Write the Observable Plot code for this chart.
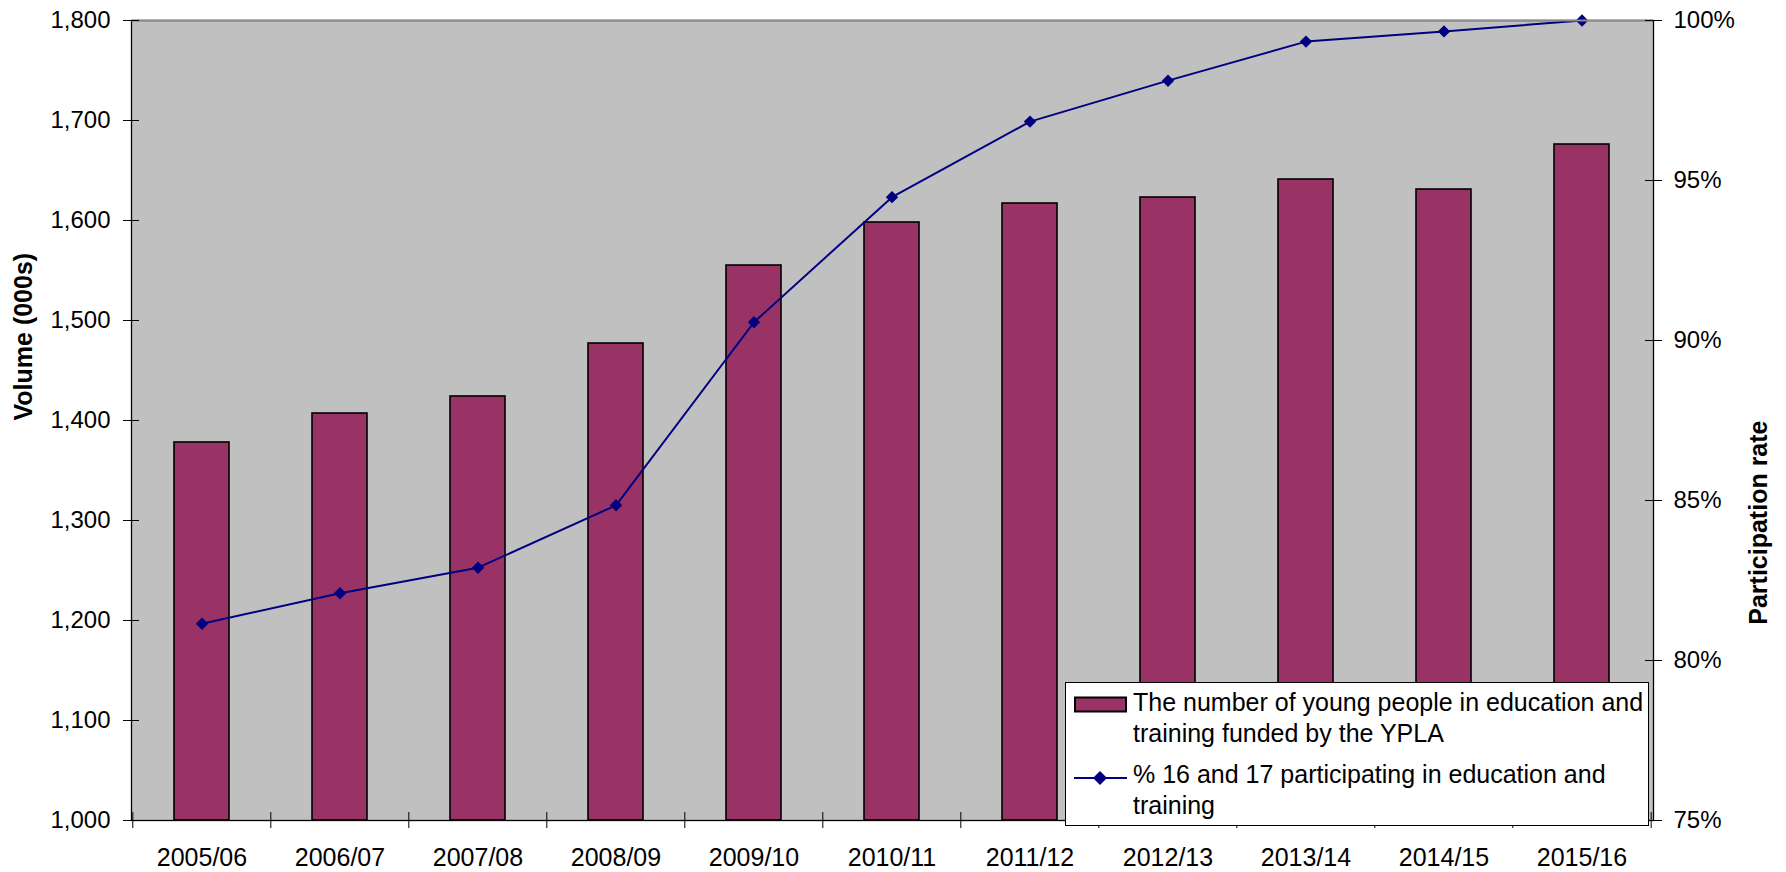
<!DOCTYPE html>
<html>
<head>
<meta charset="utf-8">
<script src="https://cdn.jsdelivr.net/npm/d3@7"></script>
<script src="https://cdn.jsdelivr.net/npm/@observablehq/plot@0.6"></script>
<style>
  html, body { margin: 0; padding: 0; background: #fff; }
  #wrap { position: relative; width: 1786px; height: 872px; font-family: "Liberation Sans", Arial, sans-serif; }
  #legend {
    position: absolute; left: 1065px; top: 682px; width: 582px; height: 142px;
    background: #fff; border: 1px solid #000; box-sizing: content-box;
    font-size: 25px; color: #000; line-height: 31px;
  }
  .item { position: absolute; left: 0; width: 100%; }
  .item .sw { position: absolute; left: 8px; }
  .item .tx { position: absolute; left: 67px; white-space: nowrap; }
</style>
</head>
<body>
<div id="wrap"></div>
<script>
const years = ["2005/06","2006/07","2007/08","2008/09","2009/10","2010/11","2011/12","2012/13","2013/14","2014/15","2015/16"];
const volume = [1378, 1407, 1424, 1477, 1555, 1598, 1617, 1623, 1641, 1631, 1676];
const rate = [81.15, 82.1, 82.9, 84.85, 90.57, 94.48, 96.84, 98.12, 99.34, 99.66, 100.0];
const leftTicks = [1000, 1100, 1200, 1300, 1400, 1500, 1600, 1700, 1800];
const rightTicks = [75, 80, 85, 90, 95, 100];
const seriesNames = [
  ["The number of young people in education and", "training funded by the YPLA"],
  ["% 16 and 17 participating in education and", "training"]
];

const W = 1786, H = 872;
const mL = 131, mR = 133, mT = 20, mB = 52;
const plotW = W - mL - mR;
const step = plotW / years.length;
const yMin = 1000, yMax = 1800, rMin = 75, rMax = 100;
const k = (yMax - yMin) / (rMax - rMin);
const toLeft = p => yMin + (p - rMin) * k;
const fromLeft = v => rMin + (v - yMin) / k;
const unitsPerPx = (yMax - yMin) / (H - mT - mB);

const data = years.map((y, i) => ({year: y, volume: volume[i], rate: rate[i]}));

const font = "'Liberation Sans', Arial, sans-serif";
const chart = Plot.plot({
  width: W, height: H,
  marginLeft: mL, marginRight: mR, marginTop: mT, marginBottom: mB,
  style: {fontFamily: font, fontSize: "24px", color: "#000", background: "#fff", overflow: "visible"},
  x: {type: "band", domain: years, paddingInner: 0.6, paddingOuter: 0.3, axis: null},
  y: {domain: [yMin, yMax], axis: null},
  marks: [
    Plot.frame({fill: "#C0C0C0"}),
    Plot.barY(data, {x: "year", y1: yMin, y2: "volume", fill: "#993366", stroke: "#000", strokeWidth: 1.6}),
    Plot.line(data, {x: "year", y: d => toLeft(d.rate), stroke: "#000080", strokeWidth: 2}),
    Plot.dot(data, {x: "year", y: d => toLeft(d.rate), symbol: "diamond2", r: 5.6, fill: "#000080", stroke: "none"}),
    Plot.frame({stroke: "#000", strokeWidth: 1.3}),
    Plot.ruleY([yMax], {stroke: "#8c8c8c", strokeWidth: 2}),
    Plot.axisY({anchor: "left", ticks: leftTicks, tickFormat: d3.format(","), tickSize: 8, tickPadding: 13, fontSize: 24, label: null, stroke: "#000"}),
    Plot.tickY(leftTicks, {y: d => d, insetRight: plotW - 8, stroke: "#000"}),
    Plot.axisY({anchor: "right", ticks: rightTicks.map(toLeft), tickFormat: v => Math.round(fromLeft(v)) + "%", tickSize: 8, tickPadding: 12, fontSize: 24, label: null}),
    Plot.tickY(rightTicks.map(toLeft), {y: d => d, insetLeft: plotW - 8, stroke: "#000"}),
    Plot.axisX({anchor: "bottom", tickSize: 0, tickPadding: 28, fontSize: 25, label: null}),
    Plot.ruleX(years, {x: d => d, dx: -step / 2, y1: yMin + 8 * unitsPerPx, y2: yMin - 8 * unitsPerPx, stroke: "#000"}),
    Plot.ruleX([years[years.length - 1]], {x: d => d, dx: step / 2, y1: yMin + 8 * unitsPerPx, y2: yMin - 8 * unitsPerPx, stroke: "#000"}),
    Plot.text(["Volume (000s)"], {frameAnchor: "left", dx: -108, rotate: -90, fontWeight: "bold", fontSize: 25, text: d => d}),
    Plot.text(["Participation rate"], {frameAnchor: "right", dx: 105, rotate: -90, fontWeight: "bold", fontSize: 25, text: d => d})
  ]
});
const wrap = document.getElementById("wrap");
wrap.appendChild(chart);

// legend (overlaid inside the plot area, as in the reference)
const legend = document.createElement("div");
legend.id = "legend";
legend.innerHTML = `
  <div class="item" style="top:0px;">
    <svg class="sw" width="56" height="20" style="top:13px;"><rect x="1" y="1.5" width="51" height="14" fill="#993366" stroke="#000" stroke-width="2"/></svg>
    <div class="tx" style="top:3.5px;">${seriesNames[0][0]}<br>${seriesNames[0][1]}</div>
  </div>
  <div class="item" style="top:72px;">
    <svg class="sw" width="56" height="20" style="top:13.3px;"><line x1="0" y1="10" x2="53" y2="10" stroke="#000080" stroke-width="2"/><path d="M26,3 L33,10 L26,17 L19,10 Z" fill="#000080"/></svg>
    <div class="tx" style="top:3.5px;">${seriesNames[1][0]}<br>${seriesNames[1][1]}</div>
  </div>`;
wrap.appendChild(legend);
</script>
</body>
</html>
